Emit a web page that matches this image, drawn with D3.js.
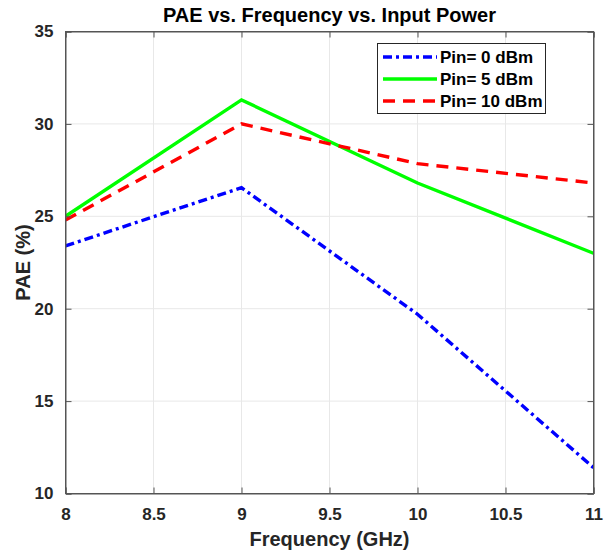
<!DOCTYPE html>
<html><head><meta charset="utf-8">
<script src="https://cdn.jsdelivr.net/npm/d3@7"></script>
<style>body{margin:0;background:#fff}svg{display:block;font-family:"Liberation Sans",Arial,sans-serif}</style>
</head><body>
<svg id="c" width="613" height="551"></svg>
<script>
const freq = [8, 9, 10, 11];
const pin0 = [23.4, 26.55, 19.7, 11.4];
const pin5 = [25.0, 31.3, 26.8, 23.0];
const pin10 = [24.8, 30.0, 27.85, 26.8];
const xTicks = [8, 8.5, 9, 9.5, 10, 10.5, 11];
const yTicks = [10, 15, 20, 25, 30, 35];
const seriesNames = ["Pin= 0 dBm", "Pin= 5 dBm", "Pin= 10 dBm"];

const svg = d3.select("#c");
const L = 65.5, R = 593.5, T = 31.5, B = 493.5;
const x = d3.scaleLinear().domain([8, 11]).range([L, R]);
const y = d3.scaleLinear().domain([10, 35]).range([B, T]);

// grid
const g = svg.append("g");
g.selectAll(".gx").data(xTicks).enter().append("line")
  .attr("x1", d => x(d)).attr("x2", d => x(d)).attr("y1", T).attr("y2", B)
  .attr("stroke", "#e8e8e8").attr("stroke-width", 1);
g.selectAll(".gy").data(yTicks).enter().append("line")
  .attr("y1", d => y(d)).attr("y2", d => y(d)).attr("x1", L).attr("x2", R)
  .attr("stroke", "#e8e8e8").attr("stroke-width", 1);

// series
const styles = [
  {data: pin0, color: "#0000ff", dash: "9,4,3,4"},
  {data: pin5, color: "#00ff00", dash: null},
  {data: pin10, color: "#ff0000", dash: "12,8"}
];
const line = d3.line().x((d, i) => x(freq[i])).y(d => y(d));
svg.append("clipPath").attr("id", "pc").append("rect")
  .attr("x", L).attr("y", T).attr("width", R - L).attr("height", B - T);
styles.forEach(s => {
  svg.append("path").attr("d", line(s.data)).attr("fill", "none")
    .attr("stroke", s.color).attr("stroke-width", 3.4)
    .attr("stroke-dasharray", s.dash).attr("clip-path", "url(#pc)");
});

// axes
const axisColor = "#555";
const xb = d3.axisBottom(x).tickValues(xTicks).tickSize(-6).tickPadding(14).tickFormat(d3.format("~g"));
const xt = d3.axisTop(x).tickValues(xTicks).tickSize(-6).tickFormat("");
const yl = d3.axisLeft(y).tickValues(yTicks).tickSize(-6).tickPadding(12).tickFormat(d3.format("~g"));
const yr = d3.axisRight(y).tickValues(yTicks).tickSize(-6).tickFormat("");
function style(sel){
  sel.select(".domain").attr("stroke", axisColor);
  sel.selectAll(".tick line").attr("stroke", axisColor);
  sel.selectAll(".tick text").attr("fill", "#262626").attr("font-size", 17).attr("font-weight", "bold")
    .attr("font-family", "Liberation Sans, Arial, sans-serif");
}
svg.append("g").attr("transform", `translate(0,${B})`).call(xb).call(style);
svg.append("g").attr("transform", `translate(0,${T})`).call(xt).call(style);
svg.append("g").attr("transform", `translate(${L},0)`).call(yl).call(style);
svg.append("g").attr("transform", `translate(${R},0)`).call(yr).call(style);

svg.append("rect").attr("x", L).attr("y", T).attr("width", R - L).attr("height", B - T)
  .attr("fill", "none").attr("stroke", axisColor).attr("stroke-width", 1);

// title and labels
svg.append("text").attr("x", (L + R) / 2).attr("y", 22).attr("text-anchor", "middle")
  .attr("font-size", 20).attr("font-weight", "bold").attr("fill", "#000").text("PAE vs. Frequency vs. Input Power");
svg.append("text").attr("x", (L + R) / 2).attr("y", 546).attr("text-anchor", "middle")
  .attr("font-size", 20).attr("font-weight", "bold").attr("fill", "#262626").text("Frequency (GHz)");
svg.append("text").attr("transform", `translate(30,${(T + B) / 2}) rotate(-90)`).attr("text-anchor", "middle")
  .attr("font-size", 20).attr("font-weight", "bold").attr("fill", "#262626").text("PAE (%)");

// legend
const lg = svg.append("g");
lg.append("rect").attr("x", 377.5).attr("y", 43.5).attr("width", 168).attr("height", 70)
  .attr("fill", "#fff").attr("stroke", "#262626").attr("stroke-width", 1);
styles.forEach((s, i) => {
  const yy = 57 + i * 22;
  lg.append("line").attr("x1", 383).attr("x2", 437).attr("y1", yy).attr("y2", yy)
    .attr("stroke", s.color).attr("stroke-width", 3.4).attr("stroke-dasharray", s.dash);
  lg.append("text").attr("x", 440).attr("y", yy + 6).attr("font-size", 17).attr("font-weight", "bold")
    .attr("fill", "#000").text(seriesNames[i]);
});
</script>
</body></html>
